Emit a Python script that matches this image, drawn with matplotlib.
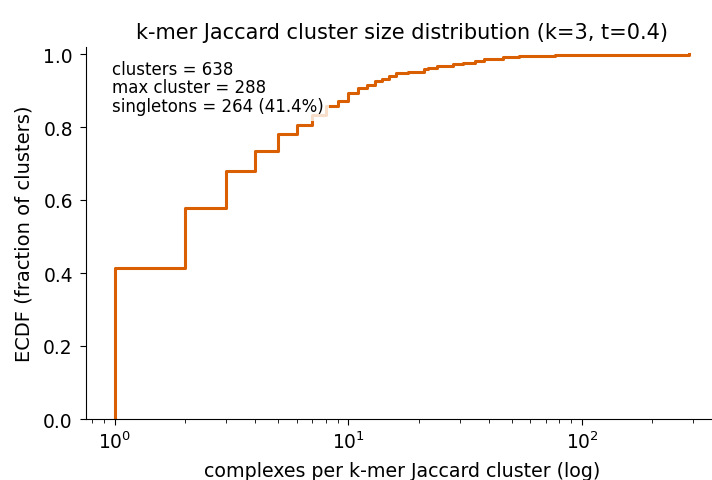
import numpy as np
import matplotlib
matplotlib.use("Agg")
import matplotlib.pyplot as plt

# cluster sizes (complexes per cluster) and how many clusters have that size
sizes = [1, 2, 3, 4, 5, 6, 7, 8, 9, 10, 11, 12, 13, 14, 15, 16, 18, 21, 22,
         24, 28, 31, 35, 38, 46, 54, 77, 106, 288]
counts = [264, 105, 64, 35, 30, 16, 18, 15, 9, 13, 9, 6, 6, 5, 5, 4, 3, 5, 2,
          3, 4, 2, 3, 3, 3, 2, 2, 1, 1]

n = sum(counts)
n_single = counts[0]
ecdf = np.cumsum(counts) / n

x = np.concatenate([[sizes[0]], sizes])
y = np.concatenate([[0.0], ecdf])

fig = plt.figure(figsize=(7.12, 4.81), dpi=100)
# axes runs a little past the right edge of the canvas, as in the original
ax = fig.add_axes([86 / 712, 1 - 420 / 481, (718 - 86) / 712, (420 - 47.7) / 481])

ax.plot(x, y, drawstyle="steps-post", color="#d95f02", lw=2.2)
ax.set_xscale("log")
ax.margins(x=0.05)
ax.set_ylim(0, 1.02)
ax.spines["top"].set_visible(False)
ax.spines["right"].set_visible(False)
ax.tick_params(labelsize=13.4, length=4.5)
ax.tick_params(axis="y", pad=5)
ax.tick_params(which="minor", length=2.8)

ax.set_title("k-mer Jaccard cluster size distribution (k=3, t=0.4)", fontsize=15)
ax.set_xlabel("complexes per k-mer Jaccard cluster (log)", fontsize=13.7, labelpad=7)
ax.set_ylabel("ECDF (fraction of clusters)", fontsize=14, labelpad=7)

txt = "clusters = %d\nmax cluster = %d\nsingletons = %d (%.1f%%)" % (
    n, max(sizes), n_single, 100.0 * n_single / n)
ax.text(0.041, 0.965, txt, transform=ax.transAxes, va="top", ha="left",
        fontsize=12, linespacing=1.05,
        bbox=dict(facecolor="white", edgecolor="none", alpha=0.8, pad=4))

fig.savefig("out.png", dpi=100)
